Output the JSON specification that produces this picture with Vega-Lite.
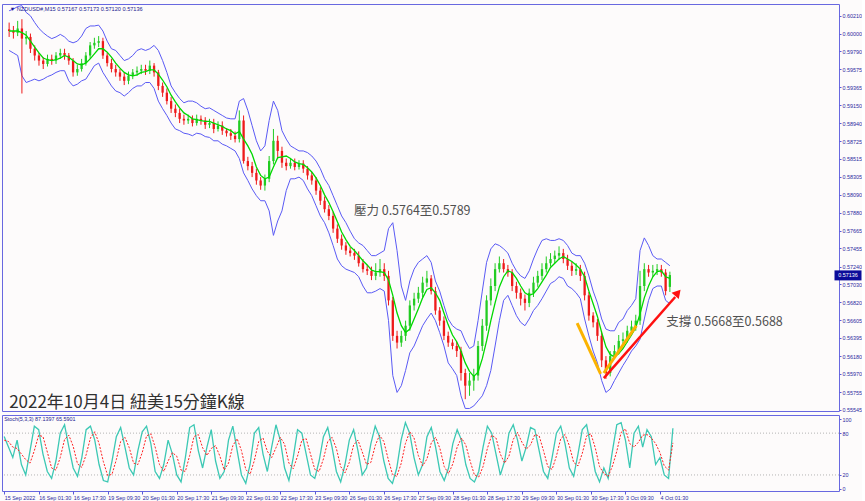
{
"$schema":"https://vega.github.io/schema/vega-lite/v6.json",
"background":"#fdfbfb",
"padding":{"left":1,"top":3,"right":0,"bottom":0},
"spacing":0,
"config":{"view":{"stroke":"#6868e0","strokeWidth":1},"font":"Liberation Sans",
"axis":{"labelFont":"Liberation Sans","labelFontSize":5.4,"labelColor":"#2a2aa0","tickColor":"#5a5ad8","tickSize":2,"domain":false,"grid":false,"title":null,"labelPadding":1,"labelOverlap":false,"tickCount":100}},
"datasets":{"px":[
{"i":0,"o":0.6005,"h":0.6013,"l":0.5996,"c":0.6003,"u":0.6027,"b":0.5980,"m":0.6003,"k":75,"d":70},
{"i":8,"o":0.6003,"h":0.6009,"l":0.5994,"c":0.6001,"u":0.6029,"b":0.5977,"m":0.6003,"k":60,"d":68},
{"i":16,"o":0.6001,"h":0.6015,"l":0.5997,"c":0.6006,"u":0.6032,"b":0.5974,"m":0.6003,"k":45,"d":60},
{"i":24,"o":0.6006,"h":0.6017,"l":0.5929,"c":0.5994,"u":0.6033,"b":0.5950,"m":0.6001,"k":70,"d":58},
{"i":32,"o":0.5994,"h":0.6003,"l":0.5987,"c":0.5996,"u":0.6025,"b":0.5942,"m":0.5998,"k":35,"d":50},
{"i":40,"o":0.5996,"h":0.6000,"l":0.5977,"c":0.5982,"u":0.6021,"b":0.5944,"m":0.5991,"k":20,"d":42},
{"i":48,"o":0.5982,"h":0.5986,"l":0.5968,"c":0.5974,"u":0.6013,"b":0.5946,"m":0.5984,"k":55,"d":37},
{"i":56,"o":0.5974,"h":0.5977,"l":0.5962,"c":0.5968,"u":0.6006,"b":0.5944,"m":0.5977,"k":90,"d":55},
{"i":64,"o":0.5968,"h":0.5972,"l":0.5958,"c":0.5964,"u":0.6001,"b":0.5946,"m":0.5971,"k":85,"d":77},
{"i":72,"o":0.5964,"h":0.5975,"l":0.5961,"c":0.5970,"u":0.5997,"b":0.5949,"m":0.5969,"k":50,"d":75},
{"i":80,"o":0.5970,"h":0.5975,"l":0.5963,"c":0.5968,"u":0.5994,"b":0.5951,"m":0.5968,"k":25,"d":53},
{"i":88,"o":0.5968,"h":0.5978,"l":0.5964,"c":0.5974,"u":0.5996,"b":0.5954,"m":0.5969,"k":15,"d":30},
{"i":96,"o":0.5974,"h":0.5982,"l":0.5970,"c":0.5977,"u":0.5999,"b":0.5956,"m":0.5971,"k":40,"d":27},
{"i":104,"o":0.5977,"h":0.5982,"l":0.5969,"c":0.5974,"u":0.5996,"b":0.5956,"m":0.5974,"k":80,"d":45},
{"i":112,"o":0.5974,"h":0.5977,"l":0.5963,"c":0.5968,"u":0.5991,"b":0.5944,"m":0.5972,"k":92,"d":71},
{"i":120,"o":0.5968,"h":0.5971,"l":0.5949,"c":0.5954,"u":0.5989,"b":0.5938,"m":0.5968,"k":60,"d":77},
{"i":128,"o":0.5954,"h":0.5963,"l":0.5950,"c":0.5958,"u":0.5991,"b":0.5940,"m":0.5964,"k":30,"d":61},
{"i":136,"o":0.5958,"h":0.5970,"l":0.5955,"c":0.5965,"u":0.5997,"b":0.5944,"m":0.5963,"k":18,"d":36},
{"i":144,"o":0.5965,"h":0.5978,"l":0.5962,"c":0.5974,"u":0.6006,"b":0.5946,"m":0.5965,"k":45,"d":31},
{"i":152,"o":0.5974,"h":0.5990,"l":0.5970,"c":0.5986,"u":0.6009,"b":0.5954,"m":0.5970,"k":85,"d":49},
{"i":160,"o":0.5986,"h":0.5995,"l":0.5982,"c":0.5989,"u":0.6009,"b":0.5962,"m":0.5976,"k":90,"d":73},
{"i":168,"o":0.5989,"h":0.5997,"l":0.5984,"c":0.5991,"u":0.6010,"b":0.5965,"m":0.5982,"k":70,"d":82},
{"i":176,"o":0.5991,"h":0.5995,"l":0.5970,"c":0.5974,"u":0.6003,"b":0.5954,"m":0.5982,"k":35,"d":65},
{"i":184,"o":0.5974,"h":0.5977,"l":0.5961,"c":0.5965,"u":0.5991,"b":0.5946,"m":0.5978,"k":12,"d":39},
{"i":192,"o":0.5965,"h":0.5970,"l":0.5954,"c":0.5958,"u":0.5982,"b":0.5938,"m":0.5972,"k":10,"d":19},
{"i":200,"o":0.5958,"h":0.5963,"l":0.5949,"c":0.5954,"u":0.5980,"b":0.5932,"m":0.5965,"k":40,"d":21},
{"i":208,"o":0.5954,"h":0.5958,"l":0.5944,"c":0.5949,"u":0.5974,"b":0.5930,"m":0.5959,"k":75,"d":42},
{"i":216,"o":0.5949,"h":0.5954,"l":0.5939,"c":0.5944,"u":0.5968,"b":0.5926,"m":0.5954,"k":88,"d":68},
{"i":224,"o":0.5944,"h":0.5955,"l":0.5940,"c":0.5950,"u":0.5970,"b":0.5930,"m":0.5951,"k":60,"d":74},
{"i":232,"o":0.5950,"h":0.5958,"l":0.5946,"c":0.5954,"u":0.5974,"b":0.5935,"m":0.5950,"k":30,"d":59},
{"i":240,"o":0.5954,"h":0.5961,"l":0.5950,"c":0.5956,"u":0.5980,"b":0.5938,"m":0.5951,"k":20,"d":37},
{"i":248,"o":0.5956,"h":0.5963,"l":0.5952,"c":0.5958,"u":0.5982,"b":0.5938,"m":0.5954,"k":55,"d":35},
{"i":256,"o":0.5958,"h":0.5963,"l":0.5951,"c":0.5956,"u":0.5980,"b":0.5942,"m":0.5955,"k":82,"d":52},
{"i":264,"o":0.5956,"h":0.5968,"l":0.5952,"c":0.5962,"u":0.5982,"b":0.5942,"m":0.5957,"k":90,"d":76},
{"i":272,"o":0.5962,"h":0.5965,"l":0.5949,"c":0.5954,"u":0.5986,"b":0.5935,"m":0.5957,"k":65,"d":79},
{"i":280,"o":0.5954,"h":0.5957,"l":0.5933,"c":0.5938,"u":0.5980,"b":0.5920,"m":0.5952,"k":25,"d":60},
{"i":288,"o":0.5938,"h":0.5942,"l":0.5925,"c":0.5930,"u":0.5968,"b":0.5911,"m":0.5945,"k":15,"d":35},
{"i":296,"o":0.5930,"h":0.5935,"l":0.5916,"c":0.5920,"u":0.5954,"b":0.5903,"m":0.5937,"k":35,"d":25},
{"i":304,"o":0.5920,"h":0.5925,"l":0.5906,"c":0.5911,"u":0.5938,"b":0.5894,"m":0.5927,"k":70,"d":40},
{"i":312,"o":0.5911,"h":0.5916,"l":0.5901,"c":0.5906,"u":0.5930,"b":0.5887,"m":0.5919,"k":50,"d":52},
{"i":320,"o":0.5906,"h":0.5911,"l":0.5894,"c":0.5899,"u":0.5923,"b":0.5885,"m":0.5912,"k":20,"d":47},
{"i":328,"o":0.5899,"h":0.5904,"l":0.5892,"c":0.5897,"u":0.5918,"b":0.5882,"m":0.5906,"k":10,"d":27},
{"i":336,"o":0.5897,"h":0.5904,"l":0.5893,"c":0.5899,"u":0.5920,"b":0.5881,"m":0.5903,"k":45,"d":25},
{"i":344,"o":0.5899,"h":0.5903,"l":0.5890,"c":0.5894,"u":0.5920,"b":0.5879,"m":0.5899,"k":88,"d":48},
{"i":352,"o":0.5894,"h":0.5904,"l":0.5891,"c":0.5899,"u":0.5918,"b":0.5882,"m":0.5898,"k":92,"d":75},
{"i":360,"o":0.5899,"h":0.5903,"l":0.5892,"c":0.5897,"u":0.5914,"b":0.5881,"m":0.5897,"k":55,"d":78},
{"i":368,"o":0.5897,"h":0.5901,"l":0.5887,"c":0.5892,"u":0.5911,"b":0.5878,"m":0.5896,"k":30,"d":59},
{"i":376,"o":0.5892,"h":0.5899,"l":0.5888,"c":0.5894,"u":0.5912,"b":0.5877,"m":0.5896,"k":60,"d":48},
{"i":384,"o":0.5894,"h":0.5899,"l":0.5882,"c":0.5887,"u":0.5909,"b":0.5873,"m":0.5894,"k":85,"d":58},
{"i":392,"o":0.5887,"h":0.5896,"l":0.5884,"c":0.5891,"u":0.5906,"b":0.5873,"m":0.5892,"k":40,"d":62},
{"i":400,"o":0.5891,"h":0.5896,"l":0.5880,"c":0.5885,"u":0.5903,"b":0.5869,"m":0.5890,"k":15,"d":47},
{"i":408,"o":0.5885,"h":0.5888,"l":0.5878,"c":0.5882,"u":0.5900,"b":0.5867,"m":0.5887,"k":25,"d":27},
{"i":416,"o":0.5882,"h":0.5887,"l":0.5874,"c":0.5879,"u":0.5899,"b":0.5864,"m":0.5885,"k":70,"d":37},
{"i":424,"o":0.5879,"h":0.5884,"l":0.5871,"c":0.5875,"u":0.5899,"b":0.5861,"m":0.5881,"k":90,"d":62},
{"i":432,"o":0.5875,"h":0.5909,"l":0.5871,"c":0.5897,"u":0.5920,"b":0.5852,"m":0.5884,"k":55,"d":72},
{"i":440,"o":0.5897,"h":0.5903,"l":0.5846,"c":0.5849,"u":0.5923,"b":0.5835,"m":0.5875,"k":20,"d":55},
{"i":448,"o":0.5849,"h":0.5854,"l":0.5838,"c":0.5843,"u":0.5909,"b":0.5826,"m":0.5867,"k":8,"d":28},
{"i":456,"o":0.5843,"h":0.5848,"l":0.5830,"c":0.5835,"u":0.5891,"b":0.5816,"m":0.5857,"k":35,"d":21},
{"i":464,"o":0.5835,"h":0.5840,"l":0.5821,"c":0.5826,"u":0.5873,"b":0.5808,"m":0.5842,"k":80,"d":41},
{"i":472,"o":0.5826,"h":0.5830,"l":0.5815,"c":0.5820,"u":0.5861,"b":0.5802,"m":0.5832,"k":88,"d":68},
{"i":480,"o":0.5820,"h":0.5833,"l":0.5814,"c":0.5828,"u":0.5867,"b":0.5802,"m":0.5828,"k":50,"d":73},
{"i":488,"o":0.5828,"h":0.5855,"l":0.5824,"c":0.5849,"u":0.5897,"b":0.5790,"m":0.5830,"k":25,"d":54},
{"i":496,"o":0.5849,"h":0.5887,"l":0.5845,"c":0.5873,"u":0.5920,"b":0.5761,"m":0.5842,"k":60,"d":45},
{"i":504,"o":0.5873,"h":0.5879,"l":0.5852,"c":0.5861,"u":0.5909,"b":0.5778,"m":0.5853,"k":92,"d":59},
{"i":512,"o":0.5861,"h":0.5866,"l":0.5841,"c":0.5847,"u":0.5885,"b":0.5790,"m":0.5854,"k":70,"d":74},
{"i":520,"o":0.5847,"h":0.5852,"l":0.5838,"c":0.5843,"u":0.5875,"b":0.5814,"m":0.5855,"k":30,"d":64},
{"i":528,"o":0.5843,"h":0.5852,"l":0.5840,"c":0.5847,"u":0.5867,"b":0.5828,"m":0.5852,"k":12,"d":37},
{"i":536,"o":0.5847,"h":0.5852,"l":0.5838,"c":0.5842,"u":0.5864,"b":0.5828,"m":0.5848,"k":45,"d":29},
{"i":544,"o":0.5842,"h":0.5850,"l":0.5839,"c":0.5846,"u":0.5861,"b":0.5830,"m":0.5846,"k":85,"d":47},
{"i":552,"o":0.5846,"h":0.5850,"l":0.5835,"c":0.5840,"u":0.5861,"b":0.5826,"m":0.5845,"k":80,"d":70},
{"i":560,"o":0.5840,"h":0.5843,"l":0.5827,"c":0.5832,"u":0.5859,"b":0.5816,"m":0.5841,"k":50,"d":72},
{"i":568,"o":0.5832,"h":0.5836,"l":0.5821,"c":0.5826,"u":0.5855,"b":0.5808,"m":0.5836,"k":20,"d":50},
{"i":576,"o":0.5826,"h":0.5830,"l":0.5809,"c":0.5814,"u":0.5849,"b":0.5796,"m":0.5829,"k":15,"d":28},
{"i":584,"o":0.5814,"h":0.5818,"l":0.5797,"c":0.5802,"u":0.5840,"b":0.5784,"m":0.5820,"k":40,"d":25},
{"i":592,"o":0.5802,"h":0.5807,"l":0.5788,"c":0.5792,"u":0.5828,"b":0.5776,"m":0.5809,"k":75,"d":43},
{"i":600,"o":0.5792,"h":0.5797,"l":0.5779,"c":0.5784,"u":0.5820,"b":0.5764,"m":0.5800,"k":88,"d":68},
{"i":608,"o":0.5784,"h":0.5789,"l":0.5764,"c":0.5769,"u":0.5808,"b":0.5749,"m":0.5789,"k":60,"d":74},
{"i":616,"o":0.5769,"h":0.5774,"l":0.5752,"c":0.5757,"u":0.5796,"b":0.5733,"m":0.5777,"k":25,"d":58},
{"i":624,"o":0.5757,"h":0.5762,"l":0.5744,"c":0.5749,"u":0.5784,"b":0.5725,"m":0.5765,"k":10,"d":32},
{"i":632,"o":0.5749,"h":0.5753,"l":0.5738,"c":0.5743,"u":0.5776,"b":0.5721,"m":0.5756,"k":35,"d":23},
{"i":640,"o":0.5743,"h":0.5747,"l":0.5736,"c":0.5740,"u":0.5766,"b":0.5719,"m":0.5748,"k":70,"d":38},
{"i":648,"o":0.5740,"h":0.5745,"l":0.5732,"c":0.5737,"u":0.5757,"b":0.5717,"m":0.5743,"k":85,"d":63},
{"i":656,"o":0.5737,"h":0.5742,"l":0.5724,"c":0.5728,"u":0.5752,"b":0.5712,"m":0.5737,"k":55,"d":70},
{"i":664,"o":0.5728,"h":0.5733,"l":0.5717,"c":0.5721,"u":0.5749,"b":0.5701,"m":0.5731,"k":20,"d":53},
{"i":672,"o":0.5721,"h":0.5726,"l":0.5714,"c":0.5719,"u":0.5743,"b":0.5693,"m":0.5726,"k":30,"d":35},
{"i":680,"o":0.5719,"h":0.5724,"l":0.5708,"c":0.5713,"u":0.5737,"b":0.5693,"m":0.5720,"k":65,"d":38},
{"i":688,"o":0.5713,"h":0.5728,"l":0.5708,"c":0.5717,"u":0.5737,"b":0.5695,"m":0.5718,"k":90,"d":62},
{"i":696,"o":0.5717,"h":0.5733,"l":0.5712,"c":0.5721,"u":0.5740,"b":0.5698,"m":0.5718,"k":75,"d":77},
{"i":704,"o":0.5721,"h":0.5728,"l":0.5707,"c":0.5713,"u":0.5743,"b":0.5695,"m":0.5717,"k":40,"d":68},
{"i":712,"o":0.5713,"h":0.5719,"l":0.5678,"c":0.5684,"u":0.5769,"b":0.5660,"m":0.5708,"k":15,"d":43},
{"i":720,"o":0.5684,"h":0.5688,"l":0.5636,"c":0.5642,"u":0.5776,"b":0.5595,"m":0.5690,"k":8,"d":21},
{"i":728,"o":0.5642,"h":0.5648,"l":0.5627,"c":0.5634,"u":0.5743,"b":0.5575,"m":0.5669,"k":30,"d":18},
{"i":736,"o":0.5634,"h":0.5648,"l":0.5629,"c":0.5642,"u":0.5701,"b":0.5583,"m":0.5654,"k":70,"d":36},
{"i":744,"o":0.5642,"h":0.5660,"l":0.5636,"c":0.5654,"u":0.5684,"b":0.5601,"m":0.5646,"k":95,"d":65},
{"i":752,"o":0.5654,"h":0.5684,"l":0.5648,"c":0.5678,"u":0.5707,"b":0.5622,"m":0.5650,"k":80,"d":82},
{"i":760,"o":0.5678,"h":0.5693,"l":0.5672,"c":0.5686,"u":0.5721,"b":0.5630,"m":0.5662,"k":45,"d":73},
{"i":768,"o":0.5686,"h":0.5700,"l":0.5681,"c":0.5693,"u":0.5729,"b":0.5642,"m":0.5674,"k":20,"d":48},
{"i":776,"o":0.5693,"h":0.5712,"l":0.5688,"c":0.5705,"u":0.5733,"b":0.5654,"m":0.5687,"k":35,"d":33},
{"i":784,"o":0.5705,"h":0.5719,"l":0.5700,"c":0.5710,"u":0.5737,"b":0.5662,"m":0.5697,"k":75,"d":43},
{"i":792,"o":0.5710,"h":0.5714,"l":0.5691,"c":0.5695,"u":0.5729,"b":0.5669,"m":0.5699,"k":88,"d":66},
{"i":800,"o":0.5695,"h":0.5700,"l":0.5667,"c":0.5672,"u":0.5707,"b":0.5660,"m":0.5693,"k":60,"d":74},
{"i":808,"o":0.5672,"h":0.5676,"l":0.5654,"c":0.5660,"u":0.5695,"b":0.5646,"m":0.5684,"k":25,"d":58},
{"i":816,"o":0.5660,"h":0.5665,"l":0.5637,"c":0.5642,"u":0.5678,"b":0.5630,"m":0.5669,"k":12,"d":32},
{"i":824,"o":0.5642,"h":0.5647,"l":0.5629,"c":0.5634,"u":0.5662,"b":0.5610,"m":0.5655,"k":30,"d":22},
{"i":832,"o":0.5634,"h":0.5638,"l":0.5626,"c":0.5630,"u":0.5654,"b":0.5603,"m":0.5643,"k":65,"d":36},
{"i":840,"o":0.5630,"h":0.5635,"l":0.5617,"c":0.5624,"u":0.5650,"b":0.5595,"m":0.5635,"k":85,"d":60},
{"i":848,"o":0.5624,"h":0.5629,"l":0.5589,"c":0.5598,"u":0.5648,"b":0.5571,"m":0.5624,"k":70,"d":73},
{"i":856,"o":0.5598,"h":0.5603,"l":0.5567,"c":0.5583,"u":0.5636,"b":0.5556,"m":0.5610,"k":35,"d":63},
{"i":864,"o":0.5583,"h":0.5598,"l":0.5571,"c":0.5589,"u":0.5627,"b":0.5556,"m":0.5600,"k":15,"d":40},
{"i":872,"o":0.5589,"h":0.5603,"l":0.5577,"c":0.5595,"u":0.5630,"b":0.5559,"m":0.5594,"k":10,"d":20},
{"i":880,"o":0.5595,"h":0.5636,"l":0.5589,"c":0.5630,"u":0.5660,"b":0.5565,"m":0.5599,"k":25,"d":17},
{"i":888,"o":0.5630,"h":0.5662,"l":0.5624,"c":0.5654,"u":0.5695,"b":0.5571,"m":0.5615,"k":60,"d":32},
{"i":896,"o":0.5654,"h":0.5690,"l":0.5648,"c":0.5684,"u":0.5729,"b":0.5583,"m":0.5636,"k":90,"d":58},
{"i":904,"o":0.5684,"h":0.5710,"l":0.5678,"c":0.5701,"u":0.5745,"b":0.5601,"m":0.5660,"k":80,"d":77},
{"i":912,"o":0.5701,"h":0.5728,"l":0.5695,"c":0.5721,"u":0.5751,"b":0.5630,"m":0.5681,"k":50,"d":73},
{"i":920,"o":0.5721,"h":0.5736,"l":0.5717,"c":0.5728,"u":0.5749,"b":0.5660,"m":0.5700,"k":20,"d":50},
{"i":928,"o":0.5728,"h":0.5733,"l":0.5717,"c":0.5721,"u":0.5745,"b":0.5684,"m":0.5712,"k":40,"d":37},
{"i":936,"o":0.5721,"h":0.5726,"l":0.5712,"c":0.5717,"u":0.5740,"b":0.5690,"m":0.5719,"k":80,"d":47},
{"i":944,"o":0.5717,"h":0.5721,"l":0.5695,"c":0.5701,"u":0.5728,"b":0.5678,"m":0.5717,"k":92,"d":71},
{"i":952,"o":0.5701,"h":0.5706,"l":0.5686,"c":0.5693,"u":0.5719,"b":0.5666,"m":0.5710,"k":70,"d":81},
{"i":960,"o":0.5693,"h":0.5698,"l":0.5678,"c":0.5686,"u":0.5713,"b":0.5658,"m":0.5701,"k":40,"d":67},
{"i":968,"o":0.5686,"h":0.5691,"l":0.5672,"c":0.5681,"u":0.5710,"b":0.5654,"m":0.5693,"k":60,"d":57},
{"i":976,"o":0.5681,"h":0.5698,"l":0.5676,"c":0.5693,"u":0.5719,"b":0.5662,"m":0.5690,"k":88,"d":63},
{"i":984,"o":0.5693,"h":0.5712,"l":0.5688,"c":0.5705,"u":0.5733,"b":0.5672,"m":0.5692,"k":85,"d":78},
{"i":992,"o":0.5705,"h":0.5719,"l":0.5700,"c":0.5713,"u":0.5745,"b":0.5678,"m":0.5698,"k":55,"d":76},
{"i":1000,"o":0.5713,"h":0.5728,"l":0.5708,"c":0.5721,"u":0.5755,"b":0.5686,"m":0.5706,"k":25,"d":55},
{"i":1008,"o":0.5721,"h":0.5736,"l":0.5717,"c":0.5728,"u":0.5757,"b":0.5695,"m":0.5714,"k":15,"d":32},
{"i":1016,"o":0.5728,"h":0.5740,"l":0.5724,"c":0.5733,"u":0.5755,"b":0.5704,"m":0.5723,"k":45,"d":28},
{"i":1024,"o":0.5733,"h":0.5743,"l":0.5728,"c":0.5737,"u":0.5755,"b":0.5707,"m":0.5728,"k":80,"d":47},
{"i":1032,"o":0.5737,"h":0.5748,"l":0.5732,"c":0.5740,"u":0.5757,"b":0.5712,"m":0.5733,"k":90,"d":72},
{"i":1040,"o":0.5740,"h":0.5745,"l":0.5728,"c":0.5733,"u":0.5755,"b":0.5710,"m":0.5736,"k":65,"d":78},
{"i":1048,"o":0.5733,"h":0.5738,"l":0.5720,"c":0.5725,"u":0.5749,"b":0.5701,"m":0.5733,"k":30,"d":62},
{"i":1056,"o":0.5725,"h":0.5730,"l":0.5713,"c":0.5719,"u":0.5740,"b":0.5698,"m":0.5730,"k":18,"d":38},
{"i":1064,"o":0.5719,"h":0.5728,"l":0.5714,"c":0.5721,"u":0.5737,"b":0.5693,"m":0.5726,"k":50,"d":33},
{"i":1072,"o":0.5721,"h":0.5726,"l":0.5707,"c":0.5713,"u":0.5737,"b":0.5686,"m":0.5721,"k":85,"d":51},
{"i":1080,"o":0.5713,"h":0.5718,"l":0.5684,"c":0.5690,"u":0.5728,"b":0.5662,"m":0.5712,"k":92,"d":76},
{"i":1088,"o":0.5690,"h":0.5694,"l":0.5660,"c":0.5666,"u":0.5713,"b":0.5642,"m":0.5695,"k":60,"d":79},
{"i":1096,"o":0.5666,"h":0.5670,"l":0.5652,"c":0.5658,"u":0.5695,"b":0.5624,"m":0.5680,"k":25,"d":59},
{"i":1104,"o":0.5658,"h":0.5662,"l":0.5636,"c":0.5642,"u":0.5681,"b":0.5610,"m":0.5665,"k":10,"d":32},
{"i":1112,"o":0.5642,"h":0.5647,"l":0.5605,"c":0.5613,"u":0.5662,"b":0.5589,"m":0.5646,"k":30,"d":22},
{"i":1120,"o":0.5613,"h":0.5618,"l":0.5591,"c":0.5598,"u":0.5650,"b":0.5575,"m":0.5629,"k":15,"d":18},
{"i":1128,"o":0.5598,"h":0.5624,"l":0.5594,"c":0.5618,"u":0.5648,"b":0.5579,"m":0.5620,"k":55,"d":33},
{"i":1136,"o":0.5618,"h":0.5631,"l":0.5615,"c":0.5624,"u":0.5648,"b":0.5589,"m":0.5617,"k":92,"d":54},
{"i":1144,"o":0.5624,"h":0.5643,"l":0.5620,"c":0.5636,"u":0.5658,"b":0.5598,"m":0.5621,"k":95,"d":81},
{"i":1152,"o":0.5636,"h":0.5646,"l":0.5632,"c":0.5638,"u":0.5662,"b":0.5607,"m":0.5627,"k":70,"d":86},
{"i":1160,"o":0.5638,"h":0.5654,"l":0.5634,"c":0.5648,"u":0.5672,"b":0.5615,"m":0.5635,"k":30,"d":65},
{"i":1168,"o":0.5648,"h":0.5660,"l":0.5643,"c":0.5653,"u":0.5678,"b":0.5624,"m":0.5643,"k":80,"d":60},
{"i":1176,"o":0.5653,"h":0.5667,"l":0.5648,"c":0.5660,"u":0.5686,"b":0.5630,"m":0.5652,"k":90,"d":67},
{"i":1184,"o":0.5660,"h":0.5719,"l":0.5655,"c":0.5701,"u":0.5743,"b":0.5638,"m":0.5668,"k":60,"d":77},
{"i":1192,"o":0.5701,"h":0.5728,"l":0.5695,"c":0.5721,"u":0.5758,"b":0.5662,"m":0.5687,"k":85,"d":78},
{"i":1200,"o":0.5721,"h":0.5726,"l":0.5712,"c":0.5717,"u":0.5749,"b":0.5684,"m":0.5701,"k":75,"d":73},
{"i":1208,"o":0.5717,"h":0.5726,"l":0.5712,"c":0.5719,"u":0.5737,"b":0.5698,"m":0.5712,"k":35,"d":65},
{"i":1216,"o":0.5719,"h":0.5727,"l":0.5714,"c":0.5721,"u":0.5733,"b":0.5701,"m":0.5718,"k":45,"d":52},
{"i":1224,"o":0.5721,"h":0.5726,"l":0.5712,"c":0.5717,"u":0.5733,"b":0.5701,"m":0.5719,"k":20,"d":33},
{"i":1232,"o":0.5717,"h":0.5721,"l":0.5690,"c":0.5695,"u":0.5729,"b":0.5684,"m":0.5712,"k":15,"d":27},
{"i":1240,"o":0.5700,"h":0.5718,"l":0.5694,"c":0.5714,"u":0.5725,"b":0.5680,"m":0.5710,"k":87,"d":66}
]},
"vconcat":[
{"width":837,"height":407,
"layer":[
{"data":{"name":"px"},"mark":{"type":"line","color":"#5a5af5","strokeWidth":1},
 "encoding":{"x":{"field":"i","type":"quantitative","scale":{"domain":[-4,1548],"nice":false,"zero":false},"axis":null},
 "y":{"field":"u","type":"quantitative","scale":{"domain":[0.5553,0.6035],"nice":false,"zero":false},
  "axis":{"orient":"right","format":".5f","labelOverlap":false,"tickCount":100,"values":[0.6021,0.6,0.5979,0.59575,0.59365,0.5915,0.5894,0.58725,0.58515,0.58305,0.5809,0.5788,0.57665,0.57455,0.5724,0.5703,0.5682,0.56605,0.56395,0.5618,0.5597,0.55755,0.55545]}}}},
{"data":{"name":"px"},"mark":{"type":"line","color":"#5a5af5","strokeWidth":1},
 "encoding":{"x":{"field":"i","type":"quantitative"},"y":{"field":"b","type":"quantitative"}}},
{"data":{"name":"px"},"mark":{"type":"rule","strokeWidth":1},
 "encoding":{"x":{"field":"i","type":"quantitative"},"y":{"field":"l","type":"quantitative"},"y2":{"field":"h"},
 "color":{"condition":{"test":"datum.c >= datum.o","value":"#22cc22"},"value":"#ee1a1a"}}},
{"data":{"name":"px"},"mark":{"type":"bar","width":2.3},
 "encoding":{"x":{"field":"i","type":"quantitative"},"y":{"field":"o","type":"quantitative"},"y2":{"field":"c"},
 "color":{"condition":{"test":"datum.c >= datum.o","value":"#22cc22"},"value":"#ee1a1a"}}},
{"data":{"name":"px"},"mark":{"type":"line","color":"#00d800","strokeWidth":1.3},
 "encoding":{"x":{"field":"i","type":"quantitative"},"y":{"field":"m","type":"quantitative"}}},
{"data":{"values":[{"g":"a","i":1066,"p":0.5657},{"g":"a","i":1110,"p":0.5597},{"g":"b","i":1116,"p":0.5598},{"g":"b","i":1177,"p":0.5654}]},
 "mark":{"type":"line","color":"#fbb300","strokeWidth":3},
 "encoding":{"x":{"field":"i","type":"quantitative"},"y":{"field":"p","type":"quantitative"},"detail":{"field":"g"}}},
{"data":{"values":[{"i":1116,"p":0.5592},{"i":1250,"p":0.5688}]},
 "mark":{"type":"line","color":"#ff1010","strokeWidth":2.5},
 "encoding":{"x":{"field":"i","type":"quantitative"},"y":{"field":"p","type":"quantitative"}}},
{"data":{"values":[{"i":1255,"p":0.5693}]},
 "mark":{"type":"point","shape":"triangle-right","filled":true,"size":90,"angle":311,"color":"#ff1010","opacity":1},
 "encoding":{"x":{"field":"i","type":"quantitative"},"y":{"field":"p","type":"quantitative"}}},
{"data":{"values":[{"i":647,"p":0.5790,"t":"壓力 0.5764至0.5789"},{"i":1233,"p":0.5658,"t":"支撐 0.5668至0.5688"}]},
 "mark":{"type":"text","font":"Noto Sans CJK TC","fontSize":12.5,"color":"#505050","align":"left","baseline":"middle"},
 "encoding":{"x":{"field":"i","type":"quantitative"},"y":{"field":"p","type":"quantitative"},"text":{"field":"t"}}},
{"data":{"values":[{"i":0,"p":0.5562,"t":"2022年10月4日 紐美15分鐘K線"}]},
 "mark":{"type":"text","font":"Noto Sans CJK TC","fontSize":17,"color":"#303030","align":"left","baseline":"middle"},
 "encoding":{"x":{"field":"i","type":"quantitative"},"y":{"field":"p","type":"quantitative"},"text":{"field":"t"}}},
{"data":{"values":[{"i":1,"p":0.6029,"t":"▼ NZDUSD#,M15  0.57167 0.57173 0.57120 0.57136"}]},
 "mark":{"type":"text","fontSize":5.6,"color":"#1a1a90","align":"left","baseline":"middle"},
 "encoding":{"x":{"field":"i","type":"quantitative"},"y":{"field":"p","type":"quantitative"},"text":{"field":"t"}}},
{"data":{"values":[{"i":1548,"p":0.57136,"t":"0.57136"}]},
 "mark":{"type":"point","shape":"M-1,-0.37L1,-0.37L1,0.37L-1,0.37Z","size":729,"filled":true,"color":"#0c0c9a","opacity":1,"xOffset":14},
 "encoding":{"x":{"field":"i","type":"quantitative"},"y":{"field":"p","type":"quantitative"}}},
{"data":{"values":[{"i":1548,"p":0.57136,"t":"0.57136"}]},
 "mark":{"type":"text","fontSize":5.4,"color":"#ffffff","align":"center","baseline":"middle","xOffset":14},
 "encoding":{"x":{"field":"i","type":"quantitative"},"y":{"field":"p","type":"quantitative"},"text":{"field":"t"}}}
]},
{"width":837,"height":76,
"layer":[
{"data":{"values":[{"lv":20},{"lv":80}]},"mark":{"type":"rule","color":"#b4b4b4","strokeDash":[1,2],"strokeWidth":1},
 "encoding":{"y":{"field":"lv","type":"quantitative","scale":{"domain":[-3,106],"nice":false,"zero":false},"axis":{"orient":"right","values":[0,20,80,100],"labelOverlap":false,"tickCount":100}}}},
{"data":{"name":"px"},"mark":{"type":"line","color":"#3cc8b4","strokeWidth":1.3},
 "encoding":{"x":{"field":"i","type":"quantitative","scale":{"domain":[-4,1548],"nice":false,"zero":false},
  "axis":{"orient":"bottom","values":[0,64,128,192,256,320,384,448,512,576,640,704,768,832,896,960,1024,1088,1152,1216],"tickCount":100,
  "labelExpr":"['15 Sep 2022','16 Sep 01:30','16 Sep 17:30','19 Sep 09:30','20 Sep 01:30','20 Sep 17:30','21 Sep 09:30','22 Sep 01:30','22 Sep 17:30','23 Sep 09:30','26 Sep 01:30','26 Sep 17:30','27 Sep 09:30','28 Sep 01:30','28 Sep 17:30','29 Sep 09:30','30 Sep 01:30','30 Sep 17:30','3 Oct 09:30','4 Oct 01:30'][round(datum.value/64)]",
  "labelAlign":"left","labelOverlap":false,"labelFlush":false,"tickSize":3,"labelPadding":1}},
 "y":{"field":"k","type":"quantitative"}}},
{"data":{"name":"px"},"mark":{"type":"line","color":"#ff2020","strokeWidth":1,"strokeDash":[2,1.5]},
 "encoding":{"x":{"field":"i","type":"quantitative"},"y":{"field":"d","type":"quantitative"}}},
{"data":{"values":[{"i":0,"v":100,"t":"Stoch(5,3,3) 87.1397 65.5901"}]},
 "mark":{"type":"text","fontSize":5.4,"color":"#1a1a90","align":"left","baseline":"middle"},
 "encoding":{"x":{"field":"i","type":"quantitative"},"y":{"field":"v","type":"quantitative"},"text":{"field":"t"}}}
]}
]
}
